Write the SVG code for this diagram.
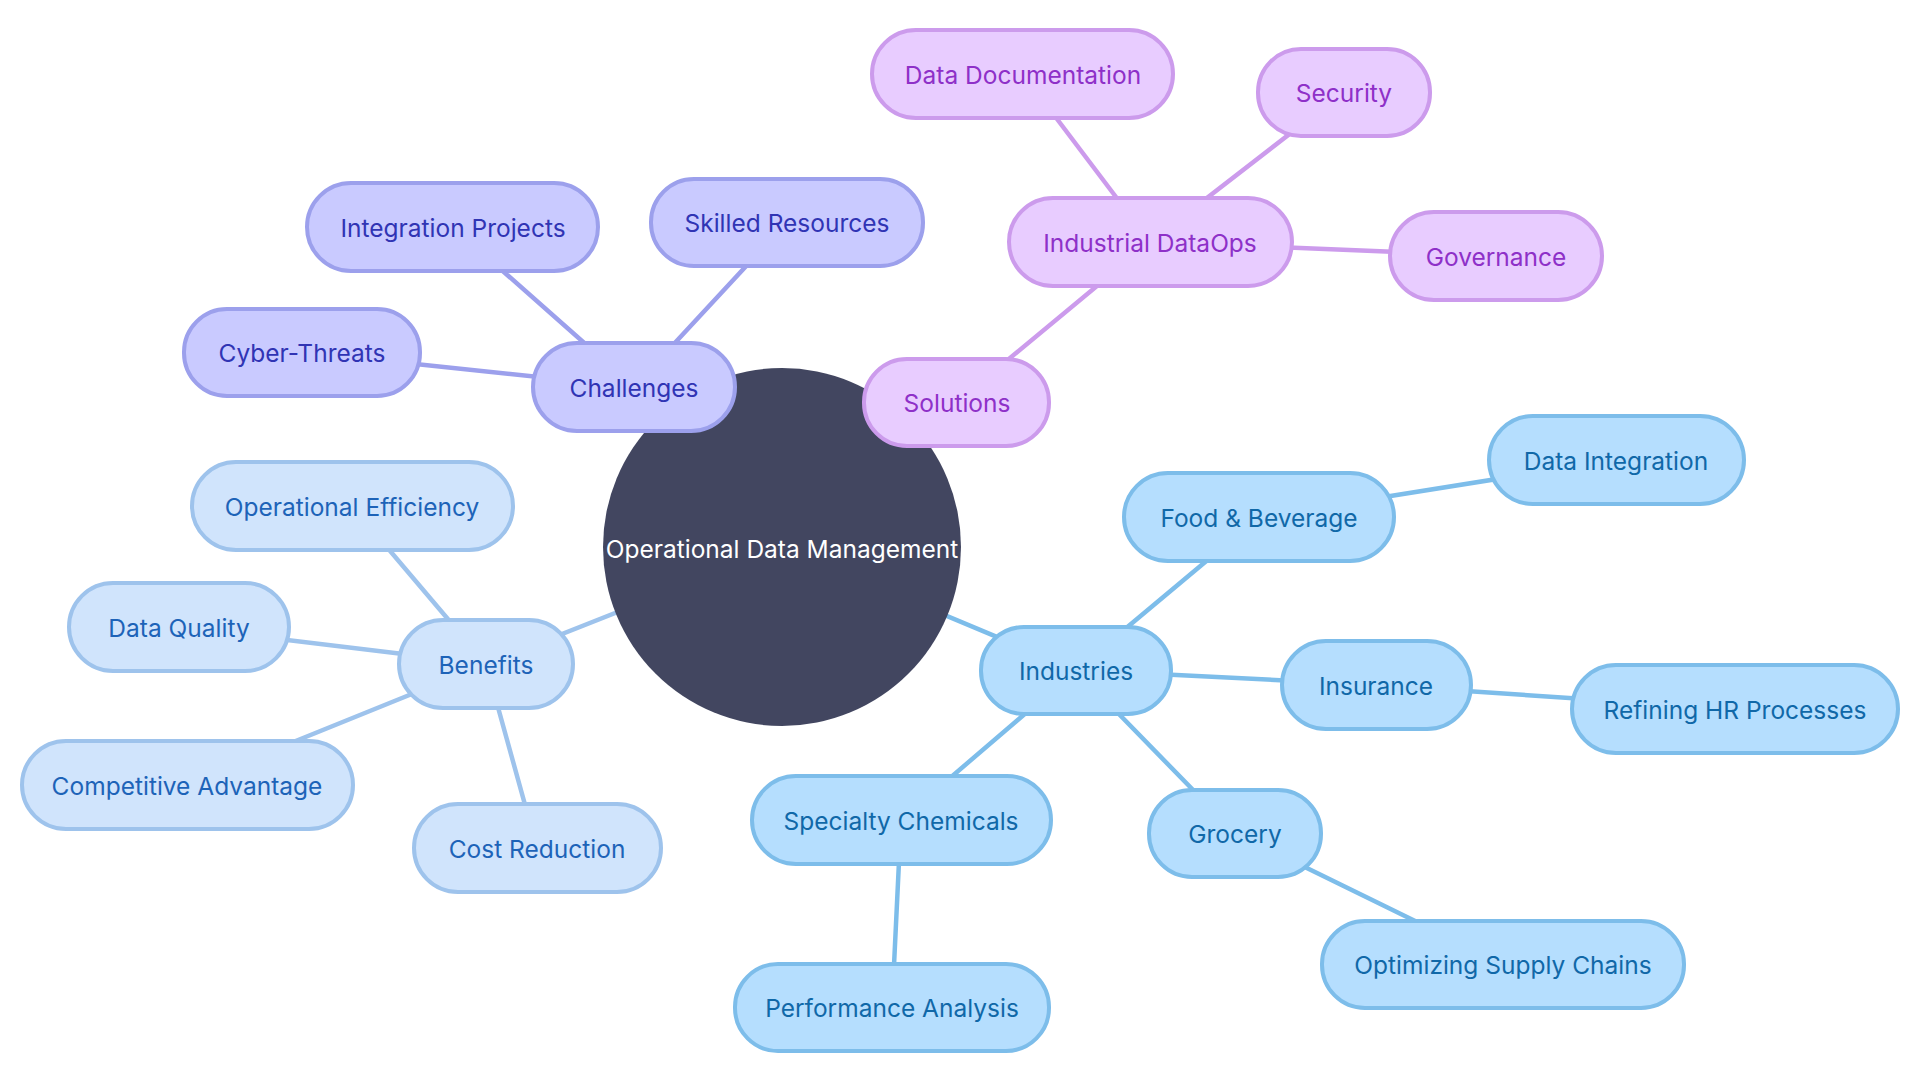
<svg xmlns="http://www.w3.org/2000/svg" width="1920" height="1080" viewBox="0 0 1920 1080">
<style>
text{font-family:Inter,"Noto Sans",sans-serif;font-size:24.5px;text-anchor:middle;dominant-baseline:central}
.n rect{stroke-width:4}
.ch rect{fill:#c9caff;stroke:#9ca0ec}.ch text{fill:#3034b4}
.so rect{fill:#e8ccff;stroke:#cc9bec}.so text{fill:#8e30c8}
.be rect{fill:#d0e4fc;stroke:#9ec3ec}.be text{fill:#1d63b8}
.in rect{fill:#b5defe;stroke:#7dbdea}.in text{fill:#1068a8}
.e line{stroke-width:4.5;stroke-linecap:round}
.ech{stroke:#9ca0ec}.eso{stroke:#cc9bec}.ebe{stroke:#9ec3ec}.ein{stroke:#7dbdea}
</style>
<rect width="1920" height="1080" fill="#ffffff"/>
<g id="connectors" class="e">
<line class="ech" x1="782" y1="547" x2="634" y2="387"/>
<line class="ech" x1="634" y1="387" x2="453" y2="227"/>
<line class="ech" x1="634" y1="387" x2="787" y2="222"/>
<line class="ech" x1="634" y1="387" x2="302" y2="352"/>
<line class="eso" x1="782" y1="547" x2="957" y2="402"/>
<line class="eso" x1="957" y1="402" x2="1150" y2="242"/>
<line class="eso" x1="1150" y1="242" x2="1023" y2="74"/>
<line class="eso" x1="1150" y1="242" x2="1344" y2="92"/>
<line class="eso" x1="1150" y1="242" x2="1496" y2="256"/>
<line class="ebe" x1="782" y1="547" x2="486" y2="664"/>
<line class="ebe" x1="486" y1="664" x2="352" y2="506"/>
<line class="ebe" x1="486" y1="664" x2="179" y2="627"/>
<line class="ebe" x1="486" y1="664" x2="187" y2="785"/>
<line class="ebe" x1="486" y1="664" x2="537" y2="848"/>
<line class="ein" x1="782" y1="547" x2="1076" y2="670"/>
<line class="ein" x1="1076" y1="670" x2="1259" y2="517"/>
<line class="ein" x1="1259" y1="517" x2="1616" y2="460"/>
<line class="ein" x1="1076" y1="670" x2="1376" y2="685"/>
<line class="ein" x1="1376" y1="685" x2="1735" y2="709"/>
<line class="ein" x1="1076" y1="670" x2="1235" y2="833"/>
<line class="ein" x1="1235" y1="833" x2="1503" y2="964"/>
<line class="ein" x1="1076" y1="670" x2="901" y2="820"/>
<line class="ein" x1="901" y1="820" x2="892" y2="1007"/>
</g>
<g id="root">
<circle cx="782" cy="547" r="179" fill="#424660"/>
<text x="782" y="549" fill="#ffffff">Operational Data Management</text>
</g>
<g id="challenges" class="n ch"><rect x="533" y="343" width="202" height="88" rx="44"/><text x="634" y="388">Challenges</text></g>
<g id="integration-projects" class="n ch"><rect x="307" y="183" width="291" height="88" rx="44"/><text x="453" y="228">Integration Projects</text></g>
<g id="skilled-resources" class="n ch"><rect x="651" y="179" width="272" height="87" rx="43"/><text x="787" y="223">Skilled Resources</text></g>
<g id="cyber-threats" class="n ch"><rect x="184" y="309" width="236" height="87" rx="43"/><text x="302" y="353">Cyber-Threats</text></g>
<g id="solutions" class="n so"><rect x="864" y="359" width="185" height="87" rx="43"/><text x="957" y="403">Solutions</text></g>
<g id="industrial-dataops" class="n so"><rect x="1009" y="198" width="283" height="88" rx="44"/><text x="1150" y="243">Industrial DataOps</text></g>
<g id="data-documentation" class="n so"><rect x="872" y="30" width="301" height="88" rx="44"/><text x="1023" y="75">Data Documentation</text></g>
<g id="security" class="n so"><rect x="1258" y="49" width="172" height="87" rx="43"/><text x="1344" y="93">Security</text></g>
<g id="governance" class="n so"><rect x="1390" y="212" width="212" height="88" rx="44"/><text x="1496" y="257">Governance</text></g>
<g id="benefits" class="n be"><rect x="399" y="620" width="174" height="88" rx="44"/><text x="486" y="665">Benefits</text></g>
<g id="operational-efficiency" class="n be"><rect x="192" y="462" width="321" height="88" rx="44"/><text x="352" y="507">Operational Efficiency</text></g>
<g id="data-quality" class="n be"><rect x="69" y="583" width="220" height="88" rx="44"/><text x="179" y="628">Data Quality</text></g>
<g id="competitive-advantage" class="n be"><rect x="22" y="741" width="331" height="88" rx="44"/><text x="187" y="786">Competitive Advantage</text></g>
<g id="cost-reduction" class="n be"><rect x="414" y="804" width="247" height="88" rx="44"/><text x="537" y="849">Cost Reduction</text></g>
<g id="industries" class="n in"><rect x="981" y="627" width="190" height="87" rx="43"/><text x="1076" y="671">Industries</text></g>
<g id="food-beverage" class="n in"><rect x="1124" y="473" width="270" height="88" rx="44"/><text x="1259" y="518">Food &amp; Beverage</text></g>
<g id="data-integration" class="n in"><rect x="1489" y="416" width="255" height="88" rx="44"/><text x="1616" y="461">Data Integration</text></g>
<g id="insurance" class="n in"><rect x="1282" y="641" width="189" height="88" rx="44"/><text x="1376" y="686">Insurance</text></g>
<g id="refining-hr-processes" class="n in"><rect x="1572" y="665" width="326" height="88" rx="44"/><text x="1735" y="710">Refining HR Processes</text></g>
<g id="grocery" class="n in"><rect x="1149" y="790" width="172" height="87" rx="43"/><text x="1235" y="834">Grocery</text></g>
<g id="optimizing-supply-chains" class="n in"><rect x="1322" y="921" width="362" height="87" rx="43"/><text x="1503" y="965">Optimizing Supply Chains</text></g>
<g id="specialty-chemicals" class="n in"><rect x="752" y="776" width="299" height="88" rx="44"/><text x="901" y="821">Specialty Chemicals</text></g>
<g id="performance-analysis" class="n in"><rect x="735" y="964" width="314" height="87" rx="43"/><text x="892" y="1008">Performance Analysis</text></g>
</svg>
